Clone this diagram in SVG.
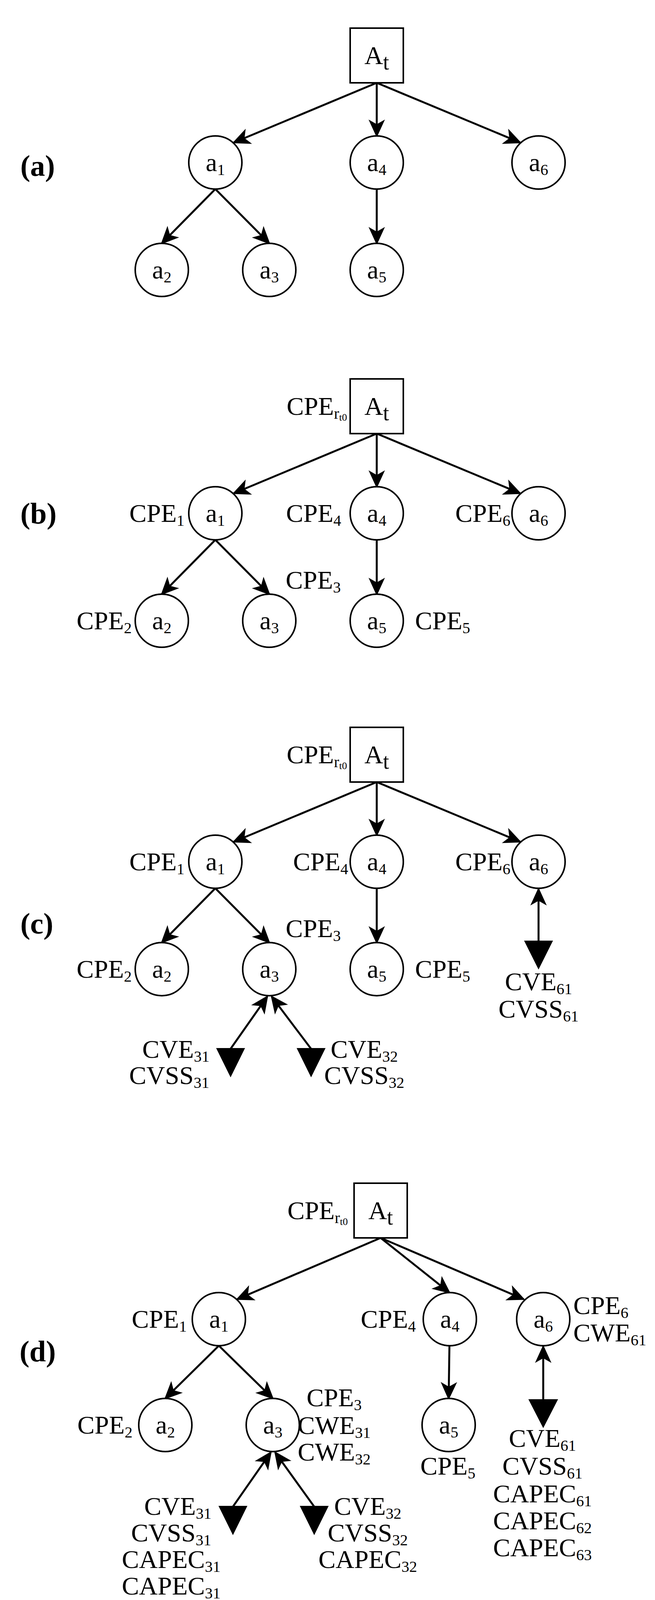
<svg xmlns="http://www.w3.org/2000/svg" width="1676" height="4126" viewBox="0 0 1676 4126">
<style>
text{font-family:"Liberation Serif","Times New Roman",serif;font-size:66px;fill:#000}
.s{font-size:40px}
.ss{font-size:26px}
.lb{font-weight:bold;font-size:76px}
.n{fill:#fff;stroke:#000;stroke-width:4}
.e{stroke:#000;stroke-width:5;fill:none;marker-end:url(#ah)}
.b{stroke:#000;stroke-width:5;fill:none;marker-start:url(#ah)}
.tri{fill:#000}
</style>
<defs>
<marker id="ah" viewBox="-50 -25 60 50" refX="0" refY="0" markerWidth="60" markerHeight="50" markerUnits="userSpaceOnUse" orient="auto-start-reverse">
<path d="M4,0 L-42,-21 L-30,0 L-42,21 Z" fill="#000"/>
</marker>
</defs>
<rect width="1676" height="4126" fill="#fff"/>

<!-- Panel a -->
<g id="panel-a">
<text class="lb" x="52" y="450">(a)</text>
<g id="conn-a">
<line class="e" x1="964" y1="212" x2="598" y2="365"/>
<line class="e" x1="964" y1="212" x2="964" y2="348"/>
<line class="e" x1="964" y1="212" x2="1331" y2="365"/>
<line class="e" x1="551" y1="484" x2="414" y2="623"/>
<line class="e" x1="551" y1="484" x2="689" y2="623"/>
<line class="e" x1="964" y1="484" x2="964" y2="623"/>
</g>
<g id="a-At"><rect class="n" x="896" y="72" width="136" height="140"/><text x="964" y="164" text-anchor="middle">A<tspan font-size="56" dy="14">t</tspan></text></g>
<g id="a-a1"><circle class="n" cx="551" cy="416" r="68"/><text x="551" y="438" text-anchor="middle">a<tspan class="s" dy="10">1</tspan></text></g>
<g id="a-a4"><circle class="n" cx="964" cy="416" r="68"/><text x="964" y="438" text-anchor="middle">a<tspan class="s" dy="10">4</tspan></text></g>
<g id="a-a6"><circle class="n" cx="1378" cy="416" r="68"/><text x="1378" y="438" text-anchor="middle">a<tspan class="s" dy="10">6</tspan></text></g>
<g id="a-a2"><circle class="n" cx="414" cy="691" r="68"/><text x="414" y="713" text-anchor="middle">a<tspan class="s" dy="10">2</tspan></text></g>
<g id="a-a3"><circle class="n" cx="689" cy="691" r="68"/><text x="689" y="713" text-anchor="middle">a<tspan class="s" dy="10">3</tspan></text></g>
<g id="a-a5"><circle class="n" cx="964" cy="691" r="68"/><text x="964" y="713" text-anchor="middle">a<tspan class="s" dy="10">5</tspan></text></g>
</g>

<!-- Panel b -->
<g id="panel-b" transform="translate(0,898)">
<text class="lb" x="52" y="442">(b)</text>
<g id="conn-b">
<line class="e" x1="964" y1="212" x2="598" y2="365"/>
<line class="e" x1="964" y1="212" x2="964" y2="348"/>
<line class="e" x1="964" y1="212" x2="1331" y2="365"/>
<line class="e" x1="551" y1="484" x2="414" y2="623"/>
<line class="e" x1="551" y1="484" x2="689" y2="623"/>
<line class="e" x1="964" y1="484" x2="964" y2="623"/>
</g>
<g id="b-At"><rect class="n" x="896" y="72" width="136" height="140"/><text x="964" y="164" text-anchor="middle">A<tspan font-size="56" dy="14">t</tspan></text>
<text x="888" y="164" text-anchor="end">CPE<tspan class="s" dy="10">r</tspan><tspan class="ss" dy="5">t0</tspan></text></g>
<g id="b-a1"><circle class="n" cx="551" cy="416" r="68"/><text x="551" y="438" text-anchor="middle">a<tspan class="s" dy="10">1</tspan></text><text x="472" y="438" text-anchor="end">CPE<tspan class="s" dy="10">1</tspan></text></g>
<g id="b-a4"><circle class="n" cx="964" cy="416" r="68"/><text x="964" y="438" text-anchor="middle">a<tspan class="s" dy="10">4</tspan></text><text x="873" y="438" text-anchor="end">CPE<tspan class="s" dy="10">4</tspan></text></g>
<g id="b-a6"><circle class="n" cx="1378" cy="416" r="68"/><text x="1378" y="438" text-anchor="middle">a<tspan class="s" dy="10">6</tspan></text><text x="1306" y="438" text-anchor="end">CPE<tspan class="s" dy="10">6</tspan></text></g>
<g id="b-a2"><circle class="n" cx="414" cy="691" r="68"/><text x="414" y="713" text-anchor="middle">a<tspan class="s" dy="10">2</tspan></text><text x="337" y="713" text-anchor="end">CPE<tspan class="s" dy="10">2</tspan></text></g>
<g id="b-a3"><circle class="n" cx="689" cy="691" r="68"/><text x="689" y="713" text-anchor="middle">a<tspan class="s" dy="10">3</tspan></text><text x="731" y="609">CPE<tspan class="s" dy="10">3</tspan></text></g>
<g id="b-a5"><circle class="n" cx="964" cy="691" r="68"/><text x="964" y="713" text-anchor="middle">a<tspan class="s" dy="10">5</tspan></text><text x="1062" y="713">CPE<tspan class="s" dy="10">5</tspan></text></g>
</g>

<!-- Panel c -->
<g id="panel-c" transform="translate(0,1790)">
<text class="lb" x="52" y="600">(c)</text>
<g id="conn-c">
<line class="e" x1="964" y1="212" x2="598" y2="365"/>
<line class="e" x1="964" y1="212" x2="964" y2="348"/>
<line class="e" x1="964" y1="212" x2="1331" y2="365"/>
<line class="e" x1="551" y1="484" x2="414" y2="623"/>
<line class="e" x1="551" y1="484" x2="689" y2="623"/>
<line class="e" x1="964" y1="484" x2="964" y2="623"/>
<line class="b" x1="684" y1="761" x2="590" y2="895"/>
<line class="b" x1="695" y1="761" x2="796" y2="895"/>
<line class="b" x1="1378" y1="486" x2="1378" y2="620"/>
<polygon class="tri" points="553,893 627,893 590,968"/>
<polygon class="tri" points="759,893 833,893 796,968"/>
<polygon class="tri" points="1341,618 1415,618 1378,692"/>
</g>
<g id="c-At"><rect class="n" x="896" y="72" width="136" height="140"/><text x="964" y="164" text-anchor="middle">A<tspan font-size="56" dy="14">t</tspan></text>
<text x="888" y="164" text-anchor="end">CPE<tspan class="s" dy="10">r</tspan><tspan class="ss" dy="5">t0</tspan></text></g>
<g id="c-a1"><circle class="n" cx="551" cy="416" r="68"/><text x="551" y="438" text-anchor="middle">a<tspan class="s" dy="10">1</tspan></text><text x="472" y="438" text-anchor="end">CPE<tspan class="s" dy="10">1</tspan></text></g>
<g id="c-a4"><circle class="n" cx="964" cy="416" r="68"/><text x="964" y="438" text-anchor="middle">a<tspan class="s" dy="10">4</tspan></text><text x="891" y="438" text-anchor="end">CPE<tspan class="s" dy="10">4</tspan></text></g>
<g id="c-a6"><circle class="n" cx="1378" cy="416" r="68"/><text x="1378" y="438" text-anchor="middle">a<tspan class="s" dy="10">6</tspan></text><text x="1306" y="438" text-anchor="end">CPE<tspan class="s" dy="10">6</tspan></text></g>
<g id="c-a2"><circle class="n" cx="414" cy="691" r="68"/><text x="414" y="713" text-anchor="middle">a<tspan class="s" dy="10">2</tspan></text><text x="337" y="713" text-anchor="end">CPE<tspan class="s" dy="10">2</tspan></text></g>
<g id="c-a3"><circle class="n" cx="689" cy="691" r="68"/><text x="689" y="713" text-anchor="middle">a<tspan class="s" dy="10">3</tspan></text><text x="731" y="609">CPE<tspan class="s" dy="10">3</tspan></text></g>
<g id="c-a5"><circle class="n" cx="964" cy="691" r="68"/><text x="964" y="713" text-anchor="middle">a<tspan class="s" dy="10">5</tspan></text><text x="1062" y="713">CPE<tspan class="s" dy="10">5</tspan></text></g>
<g id="c-v31"><text x="450" y="918" text-anchor="middle">CVE<tspan class="s" dy="10">31</tspan></text><text x="433" y="985" text-anchor="middle">CVSS<tspan class="s" dy="10">31</tspan></text></g>
<g id="c-v32"><text x="932" y="918" text-anchor="middle">CVE<tspan class="s" dy="10">32</tspan></text><text x="932" y="985" text-anchor="middle">CVSS<tspan class="s" dy="10">32</tspan></text></g>
<g id="c-v61"><text x="1378" y="745" text-anchor="middle">CVE<tspan class="s" dy="10">61</tspan></text><text x="1378" y="815" text-anchor="middle">CVSS<tspan class="s" dy="10">61</tspan></text></g>
</g>

<!-- Panel d -->
<g id="panel-d">
<text class="lb" x="50" y="3485">(d)</text>
<g id="conn-d">
<line class="e" x1="974" y1="3169" x2="607" y2="3326"/>
<line class="e" x1="974" y1="3169" x2="1150" y2="3309"/>
<line class="e" x1="974" y1="3169" x2="1340" y2="3326"/>
<line class="e" x1="560" y1="3445" x2="423" y2="3580"/>
<line class="e" x1="560" y1="3445" x2="698" y2="3580"/>
<line class="e" x1="1150" y1="3445" x2="1148" y2="3580"/>
<line class="b" x1="693" y1="3718" x2="596" y2="3857"/>
<line class="b" x1="704" y1="3718" x2="804" y2="3857"/>
<line class="b" x1="1390" y1="3447" x2="1390" y2="3584"/>
<polygon class="tri" points="559,3855 633,3855 596,3930"/>
<polygon class="tri" points="767,3855 841,3855 804,3930"/>
<polygon class="tri" points="1352,3582 1428,3582 1390,3656"/>
</g>
<g id="d-At"><rect class="n" x="906" y="3029" width="136" height="140"/><text x="974" y="3121" text-anchor="middle">A<tspan font-size="56" dy="14">t</tspan></text>
<text x="890" y="3121" text-anchor="end">CPE<tspan class="s" dy="10">r</tspan><tspan class="ss" dy="5">t0</tspan></text></g>
<g id="d-a1"><circle class="n" cx="560" cy="3377" r="68"/><text x="560" y="3399" text-anchor="middle">a<tspan class="s" dy="10">1</tspan></text><text x="478" y="3399" text-anchor="end">CPE<tspan class="s" dy="10">1</tspan></text></g>
<g id="d-a4"><circle class="n" cx="1151" cy="3377" r="68"/><text x="1151" y="3399" text-anchor="middle">a<tspan class="s" dy="10">4</tspan></text><text x="1064" y="3399" text-anchor="end">CPE<tspan class="s" dy="10">4</tspan></text></g>
<g id="d-a6"><circle class="n" cx="1390" cy="3377" r="68"/><text x="1390" y="3399" text-anchor="middle">a<tspan class="s" dy="10">6</tspan></text><text x="1467" y="3364">CPE<tspan class="s" dy="10">6</tspan></text><text x="1467" y="3434">CWE<tspan class="s" dy="10">61</tspan></text></g>
<g id="d-a2"><circle class="n" cx="423" cy="3648" r="68"/><text x="423" y="3670" text-anchor="middle">a<tspan class="s" dy="10">2</tspan></text><text x="339" y="3670" text-anchor="end">CPE<tspan class="s" dy="10">2</tspan></text></g>
<g id="d-a3"><circle class="n" cx="698" cy="3648" r="68"/><text x="698" y="3670" text-anchor="middle">a<tspan class="s" dy="10">3</tspan></text><text x="855" y="3600" text-anchor="middle">CPE<tspan class="s" dy="10">3</tspan></text><text x="855" y="3671" text-anchor="middle">CWE<tspan class="s" dy="10">31</tspan></text><text x="855" y="3739" text-anchor="middle">CWE<tspan class="s" dy="10">32</tspan></text></g>
<g id="d-a5"><circle class="n" cx="1148" cy="3648" r="68"/><text x="1148" y="3670" text-anchor="middle">a<tspan class="s" dy="10">5</tspan></text><text x="1146" y="3775" text-anchor="middle">CPE<tspan class="s" dy="10">5</tspan></text></g>
<g id="d-v31"><text x="455" y="3878" text-anchor="middle">CVE<tspan class="s" dy="10">31</tspan></text><text x="438" y="3946" text-anchor="middle">CVSS<tspan class="s" dy="10">31</tspan></text><text x="438" y="4014" text-anchor="middle">CAPEC<tspan class="s" dy="10">31</tspan></text><text x="438" y="4082" text-anchor="middle">CAPEC<tspan class="s" dy="10">31</tspan></text></g>
<g id="d-v32"><text x="941" y="3878" text-anchor="middle">CVE<tspan class="s" dy="10">32</tspan></text><text x="941" y="3946" text-anchor="middle">CVSS<tspan class="s" dy="10">32</tspan></text><text x="941" y="4014" text-anchor="middle">CAPEC<tspan class="s" dy="10">32</tspan></text></g>
<g id="d-v61"><text x="1388" y="3704" text-anchor="middle">CVE<tspan class="s" dy="10">61</tspan></text><text x="1388" y="3775" text-anchor="middle">CVSS<tspan class="s" dy="10">61</tspan></text><text x="1388" y="3846" text-anchor="middle">CAPEC<tspan class="s" dy="10">61</tspan></text><text x="1388" y="3915" text-anchor="middle">CAPEC<tspan class="s" dy="10">62</tspan></text><text x="1388" y="3984" text-anchor="middle">CAPEC<tspan class="s" dy="10">63</tspan></text></g>
</g>
</svg>
